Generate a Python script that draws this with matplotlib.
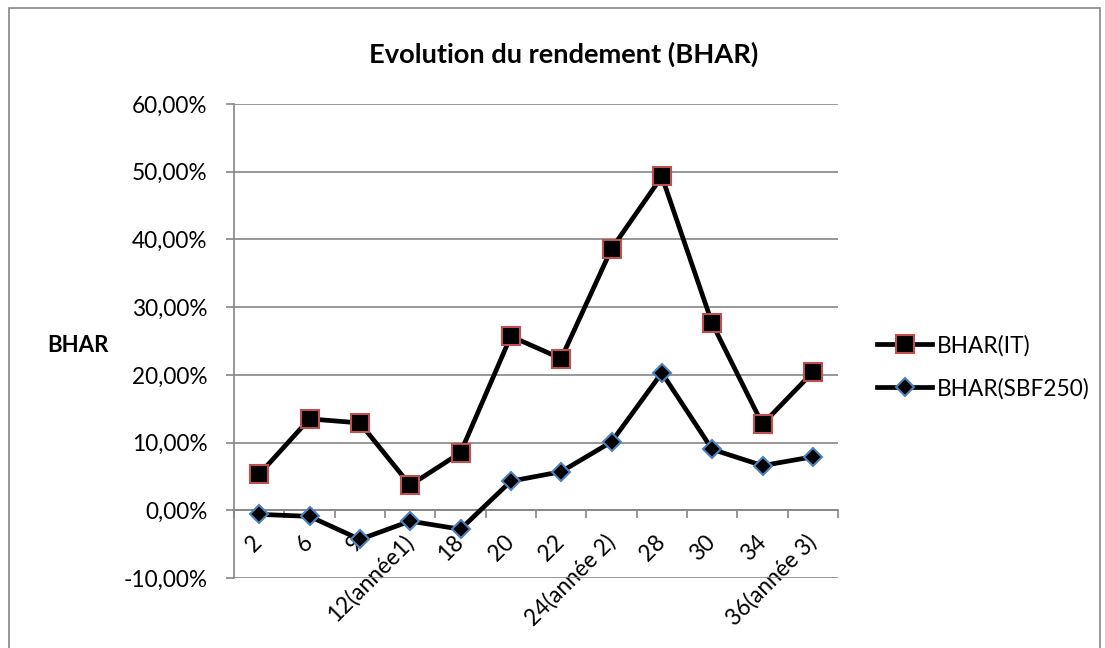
import numpy as np
import matplotlib
matplotlib.use("Agg")
import matplotlib.pyplot as plt
from matplotlib.ticker import FuncFormatter, FixedLocator
from matplotlib.patches import Rectangle

plt.rcParams['font.family'] = ['Lato', 'DejaVu Sans']

mois = ["2", "6", "9", "12(année1)", "18", "20", "22", "24(année 2)",
        "28", "30", "34", "36(année 3)"]
bhar_it = [5.3, 13.5, 12.9, 3.7, 8.5, 25.7, 22.4, 38.6, 49.3, 27.6, 12.7, 20.4]
bhar_sbf = [-0.6, -0.9, -4.3, -1.6, -2.8, 4.3, 5.7, 10.1, 20.3, 9.0, 6.6, 7.9]

W, H = 1105, 648
fig = plt.figure(figsize=(W / 100, H / 100), dpi=100)
fig.patches.append(Rectangle((9 / W, -0.01), 1091 / W, 1 - 8 / H + 0.01,
                             transform=fig.transFigure, fill=False,
                             edgecolor='#868686', lw=1.2))
# zone de tracé : x 234..838 px, y 104..578 px
ax = fig.add_axes([234 / W, 1 - 578 / H, (838 - 234) / W, (578 - 104) / H])

grey = '#868686'
fs = 16.3
x = np.arange(len(mois))
ax.plot(x, bhar_it, '-', color='black', lw=3.4, marker='s', ms=13.5,
        mfc='black', mec='#c0504d', mew=1.5, label='BHAR(IT)', zorder=3)
ax.plot(x, bhar_sbf, '-', color='black', lw=3.4, marker='D', ms=9,
        mfc='black', mec='#4f81bd', mew=1.5, label='BHAR(SBF250)', zorder=3)

ax.set_xlim(-0.5, len(mois) - 0.5)
ax.set_ylim(-10, 60)
ax.set_yticks(np.arange(-10, 61, 10))
ax.yaxis.set_major_formatter(FuncFormatter(lambda v, p: ("%.2f%%" % v).replace('.', ',')))
ax.yaxis.grid(True, color=grey, lw=1.2)
ax.set_axisbelow(True)

# axe des x sur 0%
ax.spines['bottom'].set_position(('data', 0))
for s in ['top', 'right']:
    ax.spines[s].set_visible(False)
for s in ['bottom', 'left']:
    ax.spines[s].set_color(grey)
    ax.spines[s].set_linewidth(1.2)

ax.xaxis.set_major_locator(FixedLocator(np.arange(-0.5, len(mois), 1.0)))
ax.xaxis.set_major_formatter(FuncFormatter(lambda v, p: ''))
ax.xaxis.set_minor_locator(FixedLocator(x))
ax.set_xticklabels(mois, minor=True, rotation=45, ha='right', va='center',
                   rotation_mode='anchor', fontsize=fs)
ax.tick_params(axis='x', which='major', direction='out', length=6, color=grey, width=1.2)
ax.tick_params(axis='x', which='minor', length=0, pad=20.5)
ax.tick_params(axis='y', direction='out', length=6, color=grey, width=1.2,
               labelsize=fs, pad=13)

fig.text(564 / W, 1 - 63 / H, "Evolution du rendement (BHAR)", ha='center',
         va='baseline', fontsize=19.6, fontweight='bold')
fig.text(77.5 / W, 1 - 352 / H, "BHAR", ha='center', va='baseline',
         fontsize=16, fontweight='bold')

fig.legend(loc='center left', bbox_to_anchor=(877 / W, 1 - 367 / H), frameon=False,
           fontsize=fs, handlelength=2.43, labelspacing=0.95, handletextpad=0.22,
           borderpad=0, borderaxespad=0)

fig.savefig("out.png", dpi=100)
